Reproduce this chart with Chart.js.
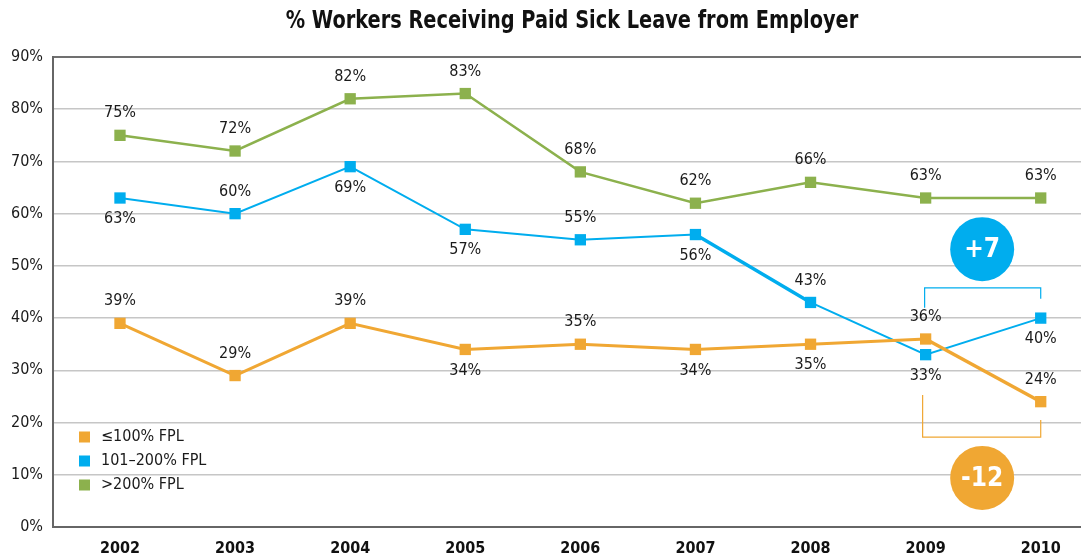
<!DOCTYPE html>
<html>
<head>
<meta charset="utf-8">
<script src="https://cdn.jsdelivr.net/npm/chart.js@4.4.1/dist/chart.umd.min.js"></script>
<style>
  html, body { margin: 0; padding: 0; background: #ffffff; }
  #wrap { width: 1081px; height: 560px; position: relative; }
</style>
</head>
<body>
<div id="wrap"><canvas id="c" width="1081" height="560"></canvas></div>
<script>
// Survey years and share of workers with paid sick leave (%), by income band
const years = [2002, 2003, 2004, 2005, 2006, 2007, 2008, 2009, 2010];
const lowIncome = [39, 29, 39, 34, 35, 34, 35, 36, 24];   // ≤100% FPL
const midIncome = [63, 60, 69, 57, 55, 56, 43, 33, 40];   // 101–200% FPL
const highIncome = [75, 72, 82, 83, 68, 62, 66, 63, 63];  // >200% FPL
const yTicks = [0, 10, 20, 30, 40, 50, 60, 70, 80, 90];

const seriesNames = ['≤100% FPL', '101–200% FPL', '>200% FPL'];
const changeLabels = ['-12', '+7'];

const ORANGE = '#F0A733';
const BLUE = '#00ADEE';
const GREEN = '#8CB14D';
const FONT = "'Liberation Sans Narrow', 'Arial Narrow', 'DejaVu Sans Condensed', 'Liberation Sans', sans-serif";

// where each value label sits relative to its point
const lowPlace  = ['a', 'a', 'a', 'b', 'a', 'b', 'b', 'a', 'a'];
const midPlace  = ['b', 'a', 'b', 'b', 'a', 'b', 'a', 'b', 'b'];
const highPlace = ['a', 'a', 'a', 'a', 'a', 'a', 'a', 'a', 'a'];

const toPoints = arr => arr.map((v, i) => ({ x: years[i], y: v }));

const valueLabels = {
  id: 'valueLabels',
  afterDatasetsDraw(chart) {
    const ctx = chart.ctx;
    ctx.save();
    ctx.font = '16px ' + FONT;
    ctx.fillStyle = '#1a1a1a';
    ctx.textAlign = 'center';
    ctx.textBaseline = 'middle';
    chart.data.datasets.forEach((ds, di) => {
      const meta = chart.getDatasetMeta(di);
      meta.data.forEach((pt, i) => {
        const dy = ds.labelPlace[i] === 'a' ? -22 : 21;
        ctx.fillText(ds.data[i].y + '%', pt.x, pt.y + dy);
      });
    });
    ctx.restore();
  }
};

const changeMarks = {
  id: 'changeMarks',
  afterDatasetsDraw(chart) {
    const { ctx, scales: { x, y } } = chart;
    const xa = x.getPixelForValue(years[7]);
    const xb = x.getPixelForValue(years[8]);
    const xm = x.getPixelForValue((years[7] + years[8]) / 2) - 1;
    ctx.save();
    ctx.lineWidth = 1.2;
    // mid-income bracket, 2009 → 2010
    ctx.strokeStyle = BLUE;
    ctx.beginPath();
    ctx.moveTo(xa - 1, y.getPixelForValue(42));
    ctx.lineTo(xa - 1, y.getPixelForValue(45.8));
    ctx.lineTo(xb, y.getPixelForValue(45.8));
    ctx.lineTo(xb, y.getPixelForValue(43.7));
    ctx.stroke();
    // low-income bracket, 2009 → 2010
    ctx.strokeStyle = ORANGE;
    ctx.beginPath();
    ctx.moveTo(xa - 3, y.getPixelForValue(25.3));
    ctx.lineTo(xa - 3, y.getPixelForValue(17.2));
    ctx.lineTo(xb, y.getPixelForValue(17.2));
    ctx.lineTo(xb, y.getPixelForValue(20.5));
    ctx.stroke();
    // change badges
    const badges = [[ORANGE, 9.4, changeLabels[0]], [BLUE, 53.2, changeLabels[1]]];
    ctx.font = "bold 26px " + FONT;
    ctx.textAlign = 'center';
    ctx.textBaseline = 'middle';
    badges.forEach(([col, v, txt]) => {
      const cy = y.getPixelForValue(v);
      ctx.fillStyle = col;
      ctx.beginPath();
      ctx.arc(xm, cy, 32, 0, Math.PI * 2);
      ctx.fill();
      ctx.fillStyle = '#ffffff';
      ctx.fillText(txt, xm, cy + 1);
    });
    ctx.restore();
  }
};

const legendBox = {
  id: 'legendBox',
  afterDraw(chart) {
    const ctx = chart.ctx;
    ctx.save();
    ctx.font = '16px ' + FONT;
    ctx.textBaseline = 'middle';
    ctx.textAlign = 'left';
    chart.data.datasets.forEach((ds, i) => {
      const cy = 437 + i * 24;
      ctx.fillStyle = ds.borderColor;
      ctx.fillRect(79, cy - 5.5, 11, 11);
      ctx.fillStyle = '#1a1a1a';
      ctx.fillText(ds.label, 101, cy);
    });
    ctx.restore();
  }
};

const titleText = {
  id: 'titleText',
  afterDraw(chart) {
    const ctx = chart.ctx;
    ctx.save();
    ctx.font = 'bold 25px ' + FONT;
    ctx.fillStyle = '#111111';
    ctx.textAlign = 'center';
    ctx.textBaseline = 'middle';
    // narrow the heading horizontally
    ctx.translate(572, 21);
    ctx.scale(0.86, 1);
    ctx.fillText('% Workers Receiving Paid Sick Leave from Employer', 0, 0);
    ctx.restore();
  }
};

new Chart(document.getElementById('c'), {
  type: 'line',
  data: {
    datasets: [
      {
        label: seriesNames[0], data: toPoints(lowIncome), labelPlace: lowPlace,
        borderColor: ORANGE, backgroundColor: ORANGE, borderWidth: 3,
        segment: { borderWidth: c => (c.p0DataIndex === 7 ? 3.5 : 3) }
      },
      {
        label: seriesNames[1], data: toPoints(midIncome), labelPlace: midPlace,
        borderColor: BLUE, backgroundColor: BLUE, borderWidth: 2,
        segment: { borderWidth: c => (c.p0DataIndex === 5 ? 3.5 : 2) }
      },
      {
        label: seriesNames[2], data: toPoints(highIncome), labelPlace: highPlace,
        borderColor: GREEN, backgroundColor: GREEN, borderWidth: 2.5
      }
    ].map(d => Object.assign(d, {
      pointStyle: 'rect', pointRadius: 8, pointHoverRadius: 8,
      pointBorderWidth: 0, tension: 0, fill: false, clip: false
    }))
  },
  options: {
    responsive: false,
    animation: false,
    devicePixelRatio: 1,
    layout: { autoPadding: false, padding: { top: 57, right: 0, bottom: 0, left: 0 } },
    plugins: { legend: { display: false }, title: { display: false }, tooltip: { enabled: false } },
    scales: {
      x: {
        type: 'linear',
        min: 2001.418,
        max: 2010.35,
        afterBuildTicks: s => { s.ticks = years.map(v => ({ value: v })); },
        afterFit: s => { s.height = 33; s.paddingLeft = 0; s.paddingRight = 0; },
        grid: { display: false, drawTicks: false },
        border: { display: true, color: '#666666', width: 2 },
        ticks: {
          padding: 12, color: '#111111', maxRotation: 0, autoSkip: false,
          font: { family: FONT, size: 16, weight: 'bold' },
          callback: v => String(v)
        }
      },
      y: {
        min: 0, max: 90,
        afterBuildTicks: s => { s.ticks = yTicks.map(v => ({ value: v })); },
        afterFit: s => { s.width = 53; },
        grid: {
          drawTicks: false,
          color: c => (c.tick && c.tick.value === 90 ? '#707070' : '#c6c6c6'),
          lineWidth: c => (c.tick && c.tick.value === 90 ? 2 : 1.5)
        },
        border: { display: true, color: '#666666', width: 2 },
        ticks: {
          padding: 10, color: '#1a1a1a', autoSkip: false,
          font: { family: FONT, size: 16 },
          callback: v => v + '%'
        }
      }
    }
  },
  plugins: [valueLabels, changeMarks, legendBox, titleText]
});
</script>
</body>
</html>
